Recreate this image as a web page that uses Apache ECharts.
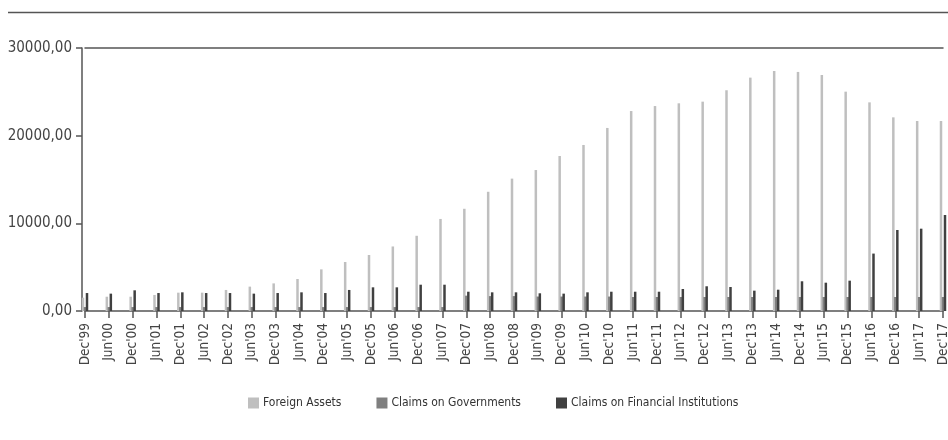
<!DOCTYPE html>
<html>
<head>
<meta charset="utf-8">
<script src="https://cdn.jsdelivr.net/npm/echarts@6/dist/echarts.min.js"></script>
<style>
  html, body { margin: 0; padding: 0; background: #fff; }
  #chart { width: 948px; height: 440px; }
</style>
</head>
<body>
<div id="chart"></div>
<script>
// semi-annual periods
var categories = [
  "Dec'99", "Jun'00", "Dec'00", "Jun'01", "Dec'01", "Jun'02", "Dec'02", "Jun'03", "Dec'03",
  "Jun'04", "Dec'04", "Jun'05", "Dec'05", "Jun'06", "Dec'06", "Jun'07", "Dec'07", "Jun'08",
  "Dec'08", "Jun'09", "Dec'09", "Jun'10", "Dec'10", "Jun'11", "Dec'11", "Jun'12", "Dec'12",
  "Jun'13", "Dec'13", "Jun'14", "Dec'14", "Jun'15", "Dec'15", "Jun'16", "Dec'16", "Jun'17", "Dec'17"
];

var foreignAssets = [
  1520, 1630, 1630, 1830, 2090, 2090, 2400, 2780, 3150,
  3650, 4750, 5590, 6390, 7360, 8580, 10500, 11660, 13600,
  15100, 16080, 17680, 18940, 20880, 22810, 23380, 23690, 23880,
  25180, 26620, 27380, 27270, 26920, 25020, 23800, 22090, 21670, 21670
];

var claimsGovernments = [
  450, 450, 450, 450, 450, 450, 450, 450, 450,
  450, 450, 450, 450, 450, 450, 450, 1750, 1700,
  1700, 1650, 1650, 1650, 1650, 1600, 1600, 1600, 1600,
  1600, 1600, 1600, 1600, 1600, 1600, 1600, 1600, 1600, 1600
];

var claimsFinancial = [
  2050, 1980, 2360, 2050, 2130, 2050, 2050, 1980, 2050,
  2130, 2050, 2400, 2700, 2700, 3000, 3000, 2200, 2130,
  2130, 2020, 1980, 2130, 2200, 2200, 2200, 2510, 2820,
  2740, 2320, 2430, 3390, 3230, 3460, 6550, 9240, 9390, 10950
];

var yTicks = [0, 10000, 20000, 30000];

var seriesNames = ["Foreign Assets", "Claims on Governments", "Claims on Financial Institutions"];
var colors = ["#bfbfbf", "#7f7f7f", "#404040"];

var font = "'Liberation Sans Narrow', 'DejaVu Sans Condensed', 'Arial Narrow', sans-serif";
var axisColor = "#555555";

var myChart = echarts.init(document.getElementById("chart"));

function makeBar(name, data, color) {
  return {
    name: name,
    type: "bar",
    data: data,
    barWidth: 2.5,
    barGap: "-20%",
    clip: false,
    itemStyle: { color: color },
    emphasis: { disabled: true }
  };
}

myChart.setOption({
  animation: false,
  color: colors,
  textStyle: { fontFamily: font },
  grid: { left: 85, right: 5, top: 48, bottom: 129, containLabel: false, outerBoundsMode: "none" },
  graphic: [{
    type: "line",
    shape: { x1: 8, y1: 12.5, x2: 948, y2: 12.5 },
    style: { stroke: axisColor, lineWidth: 1.5 }
  }],
  legend: {
    data: seriesNames,
    left: 248,
    top: 397,
    padding: 0,
    icon: "rect",
    itemWidth: 11,
    itemHeight: 11,
    itemGap: 35,
    textStyle: { fontFamily: font, fontSize: 12, color: "#333333", padding: [0, 0, 0, -1] }
  },
  xAxis: [{
    type: "category",
    data: categories,
    boundaryGap: false,
    position: "bottom",
    axisLine: { show: true, lineStyle: { color: axisColor, width: 1.5 } },
    axisTick: { show: true, length: 7, lineStyle: { color: axisColor, width: 1.5 } },
    axisLabel: {
      rotate: 90,
      interval: 0,
      margin: 12,
      fontFamily: font,
      fontSize: 13.5,
      color: "#444444"
    },
    splitLine: { show: false }
  }, {
    type: "category",
    data: categories,
    boundaryGap: false,
    position: "top",
    axisLine: { show: true, lineStyle: { color: axisColor, width: 1.5 } },
    axisTick: { show: false },
    axisLabel: { show: false },
    splitLine: { show: false }
  }],
  yAxis: {
    type: "value",
    min: yTicks[0],
    max: yTicks[yTicks.length - 1],
    interval: 10000,
    offset: 3,
    axisLine: { show: true, lineStyle: { color: axisColor, width: 1.5 } },
    axisTick: { show: true, length: 6, lineStyle: { color: axisColor, width: 1.5 } },
    axisLabel: {
      margin: 10,
      fontFamily: font,
      fontSize: 15,
      color: "#444444",
      formatter: function (v) { return v.toFixed(2).replace(".", ","); }
    },
    splitLine: { show: false }
  },
  series: [
    makeBar(seriesNames[0], foreignAssets, colors[0]),
    makeBar(seriesNames[1], claimsGovernments, colors[1]),
    makeBar(seriesNames[2], claimsFinancial, colors[2])
  ]
});
</script>
</body>
</html>
